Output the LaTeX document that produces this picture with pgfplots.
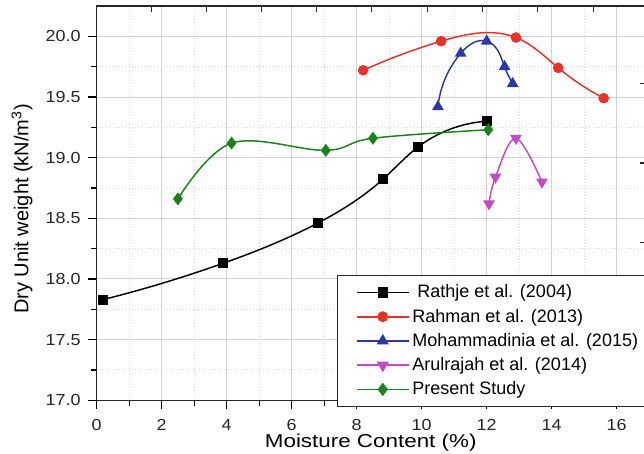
\documentclass[border=0pt]{standalone}
\usepackage{fontspec}
\setmainfont{Liberation Sans}
\newfontfamily\widefont[FakeStretch=1.12]{Liberation Sans}
\newfontfamily\xlabfont[FakeStretch=1.2]{Liberation Sans}
\usepackage{pgfplots}
\pgfplotsset{compat=1.18}
\usetikzlibrary{hobby}
\definecolor{cred}{RGB}{236,48,40}
\definecolor{cblue}{RGB}{42,56,170}
\definecolor{cmag}{RGB}{198,72,200}
\definecolor{cgreen}{RGB}{24,132,24}
\begin{document}
\begin{tikzpicture}
\begin{axis}[
  at={(0,0)}, anchor=south west,
  scale only axis, width=414.4pt, height=295.7pt,
  xmin=0, xmax=17, ymin=17, ymax=20.25,
  xtick={0,2,...,16}, ytick={17,17.5,...,20},
  minor x tick num=1, minor y tick num=1,
  xtick pos=left, ytick pos=left,
  tick align=outside,
  major tick length=6.5pt, minor tick length=4pt,
  every tick/.style={black, line width=0.9pt},
  axis line style={black!85, line width=1pt},
  grid=both,
  major grid style={gray!35, line width=0.7pt},
  minor grid style={gray!30, dotted, line width=0.7pt},
  /pgf/number format/assume math mode=true,
  tick label style={font=\widefont\fontsize{12}{14}\selectfont, text=black!85},
  xticklabel style={yshift=-4.5pt},
  yticklabel style={xshift=-2pt, /pgf/number format/.cd, fixed, fixed zerofill, precision=1},
  xlabel={Moisture Content (\%)},
  ylabel={Dry Unit weight (kN/m\textsuperscript{3})},
  every axis x label/.style={at={(axis description cs:0.496,-0.108)}, anchor=center, font=\xlabfont\fontsize{14}{16}\selectfont},
  every axis y label/.style={at={(axis description cs:-0.1351,0.485)}, rotate=90, anchor=center, font=\fontsize{15}{18}\selectfont},
  legend style={at={(0.4344,0.3175)}, anchor=north west, draw=black!85, line width=0.8pt,
    font=\fontsize{13.5}{16}\selectfont, cells={anchor=west}, row sep=2.9pt,
    inner xsep=14pt, inner ysep=5pt},
  legend image code/.code={\draw[sharp plot, line width=1.3pt, mark repeat=2, mark phase=2] plot coordinates {(0pt,0pt) (19.5pt,0pt) (39pt,0pt)};},
  every axis plot/.append style={line width=1.1pt, mark size=3.3pt},
]
\addplot[black, hobby, mark=square*, mark size=3.2pt] coordinates {(0.2,17.83) (3.9,18.13) (6.8,18.46) (8.8,18.82) (9.9,19.09) (12.0,19.30)};
\addlegendentry{\ Rathje et al. (2004)}
\addplot[cred, hobby, mark=*, mark size=3.4pt] coordinates {(8.2,19.72) (10.6,19.96) (12.9,19.99) (14.2,19.74) (15.6,19.49)};
\addlegendentry{Rahman et al. (2013)}
\addplot[cblue, hobby, mark=triangle*, mark size=4pt] coordinates {(10.5,19.42) (11.2,19.86) (12.0,19.96) (12.55,19.75) (12.8,19.61)};
\addlegendentry{Mohammadinia et al. (2015)\hspace{12pt}}
\addplot[cmag, smooth, tension=0.6, mark=triangle*, mark options={rotate=180}, mark size=4pt] coordinates {(12.07,18.62) (12.27,18.84) (12.9,19.16) (13.7,18.80)};
\addlegendentry{Arulrajah et al. (2014)}
\addplot[cgreen, smooth, tension=0.6, mark=diamond*, mark size=4pt] coordinates {(2.5,18.66) (4.15,19.12) (7.05,19.06) (8.5,19.16) (12.05,19.23)};
\addlegendentry{Present Study}
% top-axis ticks (inward)
\foreach \t in {1.69,3.38,5.08,6.77,8.46,10.18,11.88,13.57,15.29}{
  \edef\tmp{\noexpand\draw[black!85, line width=0.9pt] (axis cs:\t,20.25) -- ++(0pt,-4.5pt);}\tmp
}
% right-side ticks (inward)
\foreach \t in {17.66,18.30,18.955,19.614}{
  \edef\tmp{\noexpand\draw[black!85, line width=0.9pt] (axis cs:17,\t) -- ++(-7pt,0pt);}\tmp
}
\end{axis}
\pgfresetboundingbox
\path[use as bounding box] (-72.5pt,-40.3pt) rectangle (410.5pt,300.2pt);
\end{tikzpicture}
\end{document}
